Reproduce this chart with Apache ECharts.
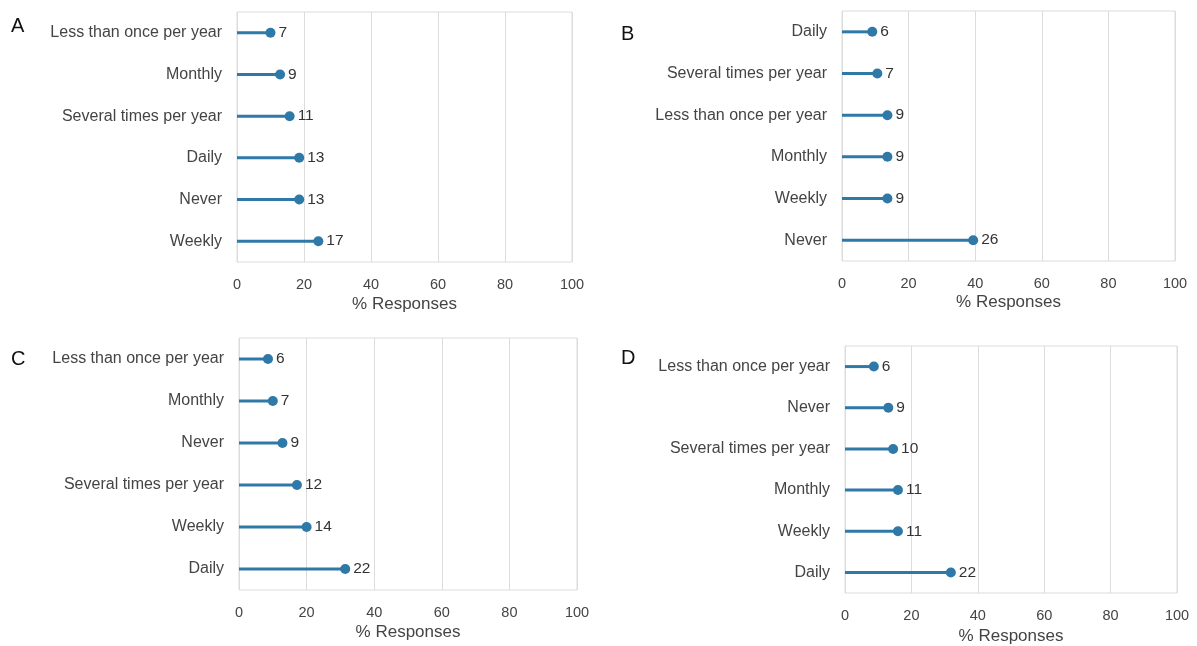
<!DOCTYPE html>
<html>
<head>
<meta charset="utf-8">
<script src="https://cdn.jsdelivr.net/npm/echarts@6/dist/echarts.min.js"></script>
<style>html,body{margin:0;padding:0;background:#fff}#c{width:1197px;height:646px}</style>
</head>
<body>
<div id="c"></div>
<script>
// Categories per panel (top to bottom) and response counts
const catsA = ["Less than once per year","Monthly","Several times per year","Daily","Never","Weekly"];
const countsA = [7, 9, 11, 13, 13, 17];
const catsB = ["Daily","Several times per year","Less than once per year","Monthly","Weekly","Never"];
const countsB = [6, 7, 9, 9, 9, 26];
const catsC = ["Less than once per year","Monthly","Never","Several times per year","Weekly","Daily"];
const countsC = [6, 7, 9, 12, 14, 22];
const catsD = ["Less than once per year","Never","Several times per year","Monthly","Weekly","Daily"];
const countsD = [6, 9, 10, 11, 11, 22];
const panelLetters = ["A","B","C","D"];
const xTicks = [0, 20, 40, 60, 80, 100];

const panels = [
  {cats: catsA, counts: countsA, grid: {left: 237, top: 12, width: 335, height: 250}, letter: [11, 16], gap: 34},
  {cats: catsB, counts: countsB, grid: {left: 842, top: 11, width: 333, height: 250}, letter: [621, 24], gap: 33},
  {cats: catsC, counts: countsC, grid: {left: 239, top: 338, width: 338, height: 252}, letter: [11, 349], gap: 34},
  {cats: catsD, counts: countsD, grid: {left: 845, top: 346, width: 332, height: 250}, letter: [621, 348], gap: 35}
];

const COLOR = '#2e79a7';
const FONT = '"Liberation Sans", Arial, sans-serif';
const grids = [], xAxes = [], yAxes = [], series = [], graphics = [];

panels.forEach((p, i) => {
  const total = p.counts.reduce((a, b) => a + b, 0);
  const pct = p.counts.map(v => v / total * 100);
  grids.push(Object.assign({show: true, borderColor: '#dcdcdc', borderWidth: 1, containLabel: false}, p.grid));
  xAxes.push({
    type: 'value', gridIndex: i, min: xTicks[0], max: xTicks[xTicks.length - 1], interval: 20,
    name: '% Responses', nameLocation: 'middle', nameGap: p.gap,
    nameTextStyle: {fontFamily: FONT, fontSize: 17, color: '#444'},
    axisLine: {show: false}, axisTick: {show: false},
    axisLabel: {fontFamily: FONT, fontSize: 14.5, color: '#444', margin: 15},
    splitLine: {show: true, lineStyle: {color: '#dcdcdc', width: 1}}
  });
  yAxes.push({
    type: 'category', gridIndex: i, data: p.cats, inverse: true,
    axisLine: {show: false}, axisTick: {show: false},
    axisLabel: {fontFamily: FONT, fontSize: 16, color: '#444', margin: 15},
    splitLine: {show: false}
  });
  series.push({
    type: 'bar', xAxisIndex: i, yAxisIndex: i, data: pct, barWidth: 3,
    itemStyle: {color: COLOR}, silent: true
  });
  series.push({
    type: 'scatter', xAxisIndex: i, yAxisIndex: i, symbolSize: 10,
    data: pct.map((v, k) => ({value: [v, k], count: p.counts[k]})),
    itemStyle: {color: COLOR, opacity: 1},
    label: {show: true, position: 'right', distance: 3, fontFamily: FONT, fontSize: 15.5, color: '#333',
      formatter: d => String(d.data.count)}
  });
  graphics.push({type: 'text', left: p.letter[0], top: p.letter[1],
    style: {text: panelLetters[i], font: '20px ' + FONT, fill: '#111'}});
});

const chart = echarts.init(document.getElementById('c'), null, {renderer: 'canvas'});
chart.setOption({
  animation: false,
  backgroundColor: '#fff',
  grid: grids, xAxis: xAxes, yAxis: yAxes, series: series, graphic: graphics
});
</script>
</body>
</html>
